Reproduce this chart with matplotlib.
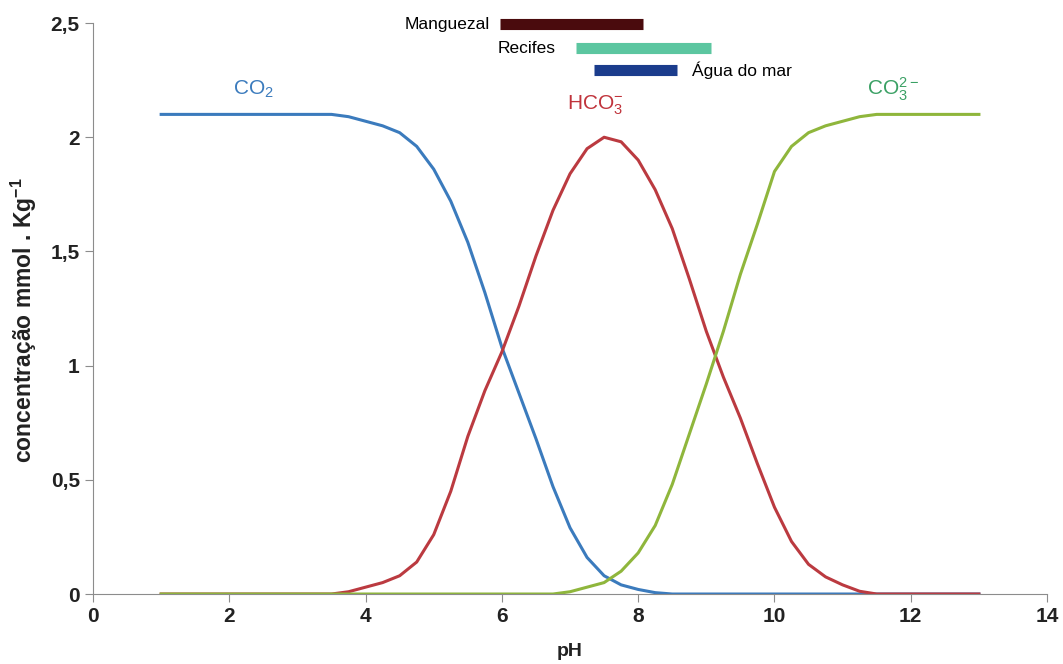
import matplotlib as mpl
import matplotlib.pyplot as plt
from matplotlib.ticker import FuncFormatter

mpl.rc("figure", facecolor="white")
plt.rcParams['font.family'] = ['Liberation Sans', 'DejaVu Sans']
plt.rcParams['mathtext.fontset'] = 'custom'
plt.rcParams['mathtext.rm'] = 'Liberation Sans'
plt.rcParams['mathtext.it'] = 'Liberation Sans:italic'
plt.rcParams['mathtext.bf'] = 'Liberation Sans:bold'

# data
ph = [1, 2, 3, 3.5, 3.75, 4, 4.25, 4.5, 4.75, 5, 5.25, 5.5, 5.75, 6, 6.25, 6.5,
      6.75, 7, 7.25, 7.5, 7.75, 8, 8.25, 8.5, 8.75, 9, 9.25, 9.5, 9.75, 10,
      10.25, 10.5, 10.75, 11, 11.25, 11.5, 12, 13]
co2 = [2.1, 2.1, 2.1, 2.1, 2.09, 2.07, 2.05, 2.02, 1.96, 1.86, 1.72, 1.54, 1.32,
       1.08, 0.88, 0.68, 0.47, 0.29, 0.16, 0.08, 0.04, 0.02, 0.006, 0, 0, 0,
       0, 0, 0, 0, 0, 0, 0, 0, 0, 0, 0, 0]
hco3 = [0, 0, 0, 0, 0.01, 0.03, 0.05, 0.08, 0.14, 0.26, 0.45, 0.69, 0.89, 1.06,
        1.26, 1.48, 1.68, 1.84, 1.95, 2.0, 1.98, 1.9, 1.77, 1.6, 1.38, 1.15,
        0.95, 0.77, 0.57, 0.38, 0.23, 0.13, 0.075, 0.04, 0.012, 0, 0, 0]
co3 = [0, 0, 0, 0, 0, 0, 0, 0, 0, 0, 0, 0, 0, 0, 0, 0, 0, 0.01, 0.03, 0.05,
       0.1, 0.18, 0.3, 0.48, 0.7, 0.92, 1.15, 1.4, 1.62, 1.85, 1.96, 2.02,
       2.05, 2.07, 2.09, 2.1, 2.1, 2.1]

# pH ranges of the environments
env_names = ['Manguezal', 'Recifes', 'Água do mar']
env_start = [5.97, 7.09, 7.35]
env_end = [8.07, 9.07, 8.57]
env_level = [2.495, 2.39, 2.295]
env_colors = ['#4a0b0d', '#5cc6a0', '#1b3c8c']

fig = plt.figure(figsize=(10.63, 6.64), dpi=100)
ax = fig.add_axes([0.0875, 0.1054, 0.8975, 0.8599])

ax.plot(ph, co2, color='#3b7bbd', linewidth=2.2, solid_joinstyle='round')
ax.plot(ph, hco3, color='#bb3a40', linewidth=2.2, solid_joinstyle='round')
ax.plot(ph, co3, color='#8fb63c', linewidth=2.2, solid_joinstyle='round')

ax.text(2.35, 2.21, r'CO$_\mathregular{2}$', color='#3b7bbd', fontsize=15, ha='center', va='center')
ax.text(7.37, 2.14, r'HCO$_\mathregular{3}^\mathregular{-}$', color='#c0333b', fontsize=15, ha='center', va='center')
ax.text(11.74, 2.21, r'CO$_\mathregular{3}^\mathregular{2-}$', color='#3aa064', fontsize=15, ha='center', va='center')

for name, s, e, lv, c in zip(env_names, env_start, env_end, env_level, env_colors):
    ax.plot([s, e], [lv, lv], color=c, linewidth=8, solid_capstyle='butt', clip_on=False)
ax.text(env_start[0] - 0.15, env_level[0], env_names[0], fontsize=12.5, ha='right', va='center')
ax.text(env_start[1] - 0.3, env_level[1], env_names[1], fontsize=12.5, ha='right', va='center')
ax.text(env_end[2] + 0.22, env_level[2], env_names[2], fontsize=12.5, ha='left', va='center')

ax.set_xlim(0, 14)
ax.set_ylim(0, 2.5)
ax.set_xticks(range(0, 15, 2))
ax.set_yticks([0, 0.5, 1, 1.5, 2, 2.5])
ax.yaxis.set_major_formatter(FuncFormatter(lambda v, p: ('%g' % v).replace('.', ',')))

for side in ['top', 'right']:
    ax.spines[side].set_visible(False)
for side in ['left', 'bottom']:
    ax.spines[side].set_color('#8c8c8c')
ax.tick_params(axis='both', colors='#8c8c8c', length=6, labelsize=15, labelcolor='#222222')
for lbl in ax.get_xticklabels() + ax.get_yticklabels():
    lbl.set_fontweight('bold')

ax.set_xlabel('pH', fontsize=14, fontweight='bold', color='#222222')
ax.set_ylabel(r'concentração mmol . Kg$^\mathbf{-1}$', fontsize=16.5, fontweight='bold', color='#222222')
ax.xaxis.set_label_coords(0.5, -0.085)
ax.yaxis.set_label_coords(-0.057, 0.48)

fig.savefig('out.png', dpi=100)
